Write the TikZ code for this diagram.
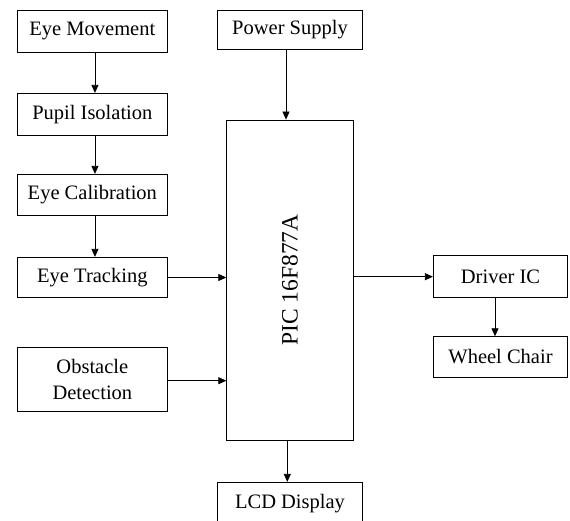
\documentclass[tikz,border=0pt]{standalone}
\usepackage{fontspec}
\setmainfont{Liberation Serif}
\usetikzlibrary{arrows.meta}
\begin{document}
\begin{tikzpicture}[x=1pt,y=-1pt,
  blk/.style={draw=black,line width=0.8pt,inner sep=0pt,align=center,
    font=\fontsize{20.5}{25.7}\selectfont},
  arr/.style={line width=0.8pt,-{Triangle[length=8pt,width=7pt]}}]
\useasboundingbox (0,0) rectangle (570,521);
\clip (0,0) rectangle (570,521);
\node[blk,minimum width=150.7pt,minimum height=41.6pt] (em) at (92.35,31.5) {Eye Movement};
\node[blk,minimum width=150.7pt,minimum height=41.7pt] (pi) at (92.35,114.15) {Pupil Isolation};
\node[blk,minimum width=150.7pt,minimum height=41.4pt] (ec) at (92.35,195) {Eye Calibration};
\node[blk,minimum width=150.7pt,minimum height=40.4pt] (et) at (92.35,277.5) {Eye Tracking};
\node[blk,minimum width=150.7pt,minimum height=64.4pt] (od) at (92.35,379.5) {Obstacle\\Detection};
\node[blk,minimum width=144.6pt,minimum height=38.3pt] (ps) at (290,29.85) {Power Supply};
\node[blk,minimum width=126.6pt,minimum height=320pt] (pic) at (290,280) {};
\node[font=\fontsize{23.5}{28}\selectfont,rotate=90] (pictext) at (pic.center) {PIC 16F877A};
\node[blk,minimum width=134.4pt,minimum height=42pt] (di) at (500.5,276.7) {Driver IC};
\node[blk,minimum width=134.4pt,minimum height=40.6pt] (wc) at (500.5,357) {Wheel Chair};
\node[blk,minimum width=144.6pt,minimum height=42pt] (lcd) at (290,503.3) {LCD Display};
\draw[arr] ([xshift=2.6pt]em.south) -- ([xshift=2.6pt]pi.north);
\draw[arr] ([xshift=2.6pt]pi.south) -- ([xshift=2.6pt]ec.north);
\draw[arr] ([xshift=2.6pt]ec.south) -- ([xshift=2.6pt]et.north);
\draw[arr] ([xshift=-4pt]ps.south) -- ([xshift=-4pt]pic.north);
\draw[arr] (et.east) -- (et.east -| pic.west);
\draw[arr] ([yshift=-1.2pt]od.east) -- ([yshift=-1.2pt]od.east -| pic.west);
\draw[arr] (di.west -| pic.east) -- (di.west);
\draw[arr] ([xshift=-5.5pt]di.south) -- ([xshift=-5.5pt]wc.north);
\draw[arr] ([xshift=-2.7pt]pic.south) -- ([xshift=-2.7pt]lcd.north);
\end{tikzpicture}
\end{document}
